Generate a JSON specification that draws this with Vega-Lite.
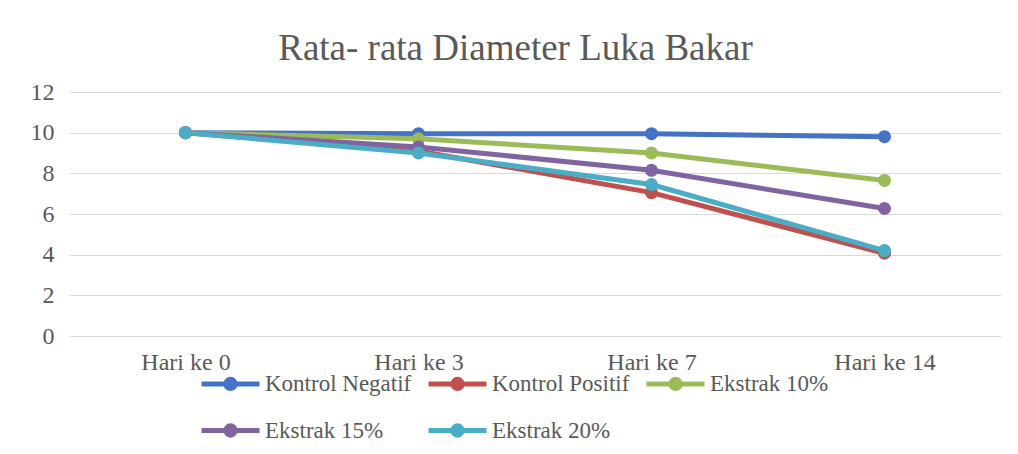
{
  "$schema": "https://vega.github.io/schema/vega-lite/v6.json",
  "width": 932,
  "height": 244,
  "padding": {"left": 30, "top": 30, "right": 10, "bottom": 0},
  "autosize": {"type": "pad"},
  "title": {"text": "Rata- rata Diameter Luka Bakar", "font": "Liberation Serif", "fontSize": 37, "fontWeight": "normal", "color": "#595959", "frame": "bounds", "anchor": "middle", "offset": 12},
  "data": {"values": [
    {"perlakuan": "Kontrol Negatif", "hari": "Hari ke 0", "diameter": 10.0},
    {"perlakuan": "Kontrol Negatif", "hari": "Hari ke 3", "diameter": 9.95},
    {"perlakuan": "Kontrol Negatif", "hari": "Hari ke 7", "diameter": 9.95},
    {"perlakuan": "Kontrol Negatif", "hari": "Hari ke 14", "diameter": 9.8},
    {"perlakuan": "Kontrol Positif", "hari": "Hari ke 0", "diameter": 10.0},
    {"perlakuan": "Kontrol Positif", "hari": "Hari ke 3", "diameter": 9.1},
    {"perlakuan": "Kontrol Positif", "hari": "Hari ke 7", "diameter": 7.05},
    {"perlakuan": "Kontrol Positif", "hari": "Hari ke 14", "diameter": 4.07},
    {"perlakuan": "Ekstrak 10%", "hari": "Hari ke 0", "diameter": 10.0},
    {"perlakuan": "Ekstrak 10%", "hari": "Hari ke 3", "diameter": 9.7},
    {"perlakuan": "Ekstrak 10%", "hari": "Hari ke 7", "diameter": 9.0},
    {"perlakuan": "Ekstrak 10%", "hari": "Hari ke 14", "diameter": 7.65},
    {"perlakuan": "Ekstrak 15%", "hari": "Hari ke 0", "diameter": 10.0},
    {"perlakuan": "Ekstrak 15%", "hari": "Hari ke 3", "diameter": 9.3},
    {"perlakuan": "Ekstrak 15%", "hari": "Hari ke 7", "diameter": 8.15},
    {"perlakuan": "Ekstrak 15%", "hari": "Hari ke 14", "diameter": 6.27},
    {"perlakuan": "Ekstrak 20%", "hari": "Hari ke 0", "diameter": 10.0},
    {"perlakuan": "Ekstrak 20%", "hari": "Hari ke 3", "diameter": 9.0},
    {"perlakuan": "Ekstrak 20%", "hari": "Hari ke 7", "diameter": 7.45},
    {"perlakuan": "Ekstrak 20%", "hari": "Hari ke 14", "diameter": 4.2}
  ]},
  "mark": {"type": "line", "strokeWidth": 5, "point": {"filled": true, "size": 170}},
  "encoding": {
    "x": {"field": "hari", "type": "ordinal", "sort": ["Hari ke 0", "Hari ke 3", "Hari ke 7", "Hari ke 14"],
      "scale": {"type": "point", "padding": 0.5},
      "axis": {"title": null, "labelAngle": 0, "labelOverlap": false, "domain": false, "ticks": false, "grid": false, "labelFont": "Liberation Serif", "labelFontSize": 24, "labelColor": "#595959", "labelPadding": 14}},
    "y": {"field": "diameter", "type": "quantitative", "scale": {"domain": [0, 12]},
      "axis": {"values": [0, 2, 4, 6, 8, 10, 12], "title": null, "domain": false, "ticks": false, "gridColor": "#D9D9D9", "gridWidth": 1, "labelFont": "Liberation Serif", "labelFontSize": 24, "labelColor": "#595959", "labelPadding": 15}},
    "color": {"field": "perlakuan", "type": "nominal",
      "sort": ["Kontrol Negatif", "Kontrol Positif", "Ekstrak 10%", "Ekstrak 15%", "Ekstrak 20%"],
      "scale": {"domain": ["Kontrol Negatif", "Kontrol Positif", "Ekstrak 10%", "Ekstrak 15%", "Ekstrak 20%"], "range": ["#4472C4", "#C0504D", "#9BBB59", "#8064A2", "#4BACC6"]},
      "legend": {"orient": "none", "legendX": 130, "legendY": 260, "direction": "horizontal", "columns": 3, "title": null,
        "labelFont": "Liberation Serif", "labelFontSize": 23, "labelColor": "#595959", "labelOffset": 3,
        "symbolType": "M-1,0L1,0M0.16,0A0.16,0.16,0,1,1,-0.16,0A0.16,0.16,0,1,1,0.16,0",
        "symbolSize": 3364, "symbolStrokeWidth": 5, "rowPadding": -19, "columnPadding": 6,
        "encode": {"symbols": {"update": {"fill": {"scale": "color", "field": "value"}}}}}}
  },
  "config": {"view": {"stroke": null}}
}
